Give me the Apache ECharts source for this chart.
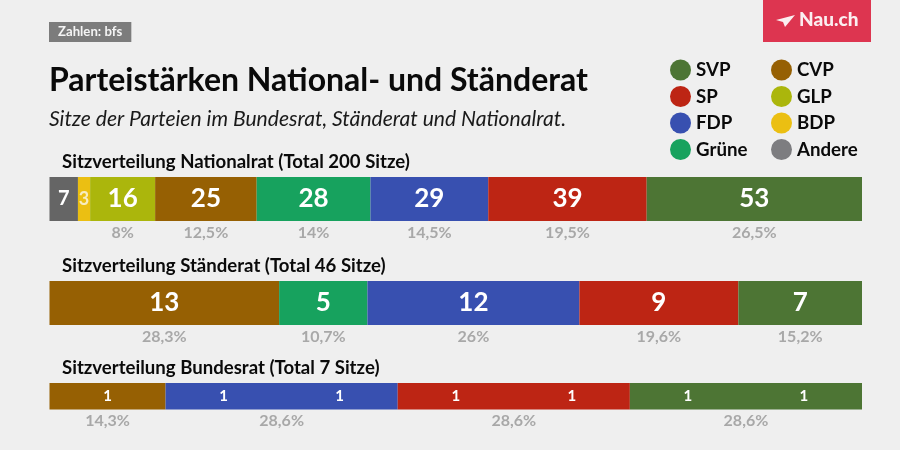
<!DOCTYPE html>
<html><head><meta charset="utf-8">
<style>html,body{margin:0;padding:0;background:#efefef}#c{width:900px;height:450px}</style>
<script src="https://cdn.jsdelivr.net/npm/echarts@6/dist/echarts.min.js"></script>
</head><body><div id="c"></div>
<script>
const legendLeft = ['SVP','SP','FDP','Grüne'];
const legendRight = ['CVP','GLP','BDP','Andere'];
const colors = {SVP:'#4d7534',SP:'#bd2514',FDP:'#3850b0','Grüne':'#17a25e',CVP:'#966003',GLP:'#abb60c',BDP:'#ebbf12',Andere:'#656565'};

const nrParties = ['Andere','BDP','GLP','CVP','Grüne','FDP','SP','SVP'];
const nrSeats = [7,3,16,25,28,29,39,53];
const nrLabels = [7,3,16,25,28,29,39,53];
const nrShares = ['','','8%','12,5%','14%','14,5%','19,5%','26,5%'];

const srParties = ['CVP','Grüne','FDP','SP','SVP'];
const srSeats = [13,5,12,9,7];
const srLabels = [13,5,12,9,7];
const srShares = ['28,3%','10,7%','26%','19,6%','15,2%'];

const brParties = ['CVP','FDP','SP','SVP'];
const brSeats = [1,2,2,2];
const brLabels = [1,1,1,1,1,1,1];
const brShares = ['14,3%','28,6%','28,6%','28,6%'];

const rows = [
  {title:'Sitzverteilung Nationalrat (Total 200 Sitze)',total:200,top:177,h:44,titleTop:151,font:26,parties:nrParties,seats:nrSeats,labels:nrLabels,shares:nrShares},
  {title:'Sitzverteilung Ständerat (Total 46 Sitze)',total:46,top:281,h:44,titleTop:255,font:26,parties:srParties,seats:srSeats,labels:srLabels,shares:srShares},
  {title:'Sitzverteilung Bundesrat (Total 7 Sitze)',total:7,top:383,h:26.5,titleTop:357,font:15,parties:brParties,seats:brSeats,labels:brLabels,shares:brShares}
];
const FONT = 'Lato';
const grids=[],xAxes=[],yAxes=[],series=[];
const titles=[
  {text:'Zahlen: bfs',left:49,top:22,padding:[3,9,3,9],backgroundColor:'#7c7c7c',textStyle:{fontFamily:FONT,fontSize:13.2,fontWeight:'bold',color:'#f4f4f4',lineHeight:14}},
  {text:'Parteistärken National- und Ständerat',left:49,top:62,padding:0,textStyle:{fontFamily:FONT,fontSize:32,fontWeight:'bold',color:'#0a0a0a',lineHeight:38}},
  {text:'Sitze der Parteien im Bundesrat, Ständerat und Nationalrat.',left:49,top:106,padding:0,textStyle:{fontFamily:FONT,fontSize:21.1,fontStyle:'italic',fontWeight:'normal',color:'#1a1a1a',lineHeight:26}}
];
rows.forEach((r,i)=>{
  grids.push({left:49.5,width:812.5,top:r.top,height:r.h});
  xAxes.push({type:'value',gridIndex:i,min:0,max:r.total,show:false});
  yAxes.push({type:'category',gridIndex:i,data:[r.title],show:false});
  titles.push({text:r.title,left:62,top:r.titleTop,padding:0,textStyle:{fontFamily:FONT,fontSize:18.6,fontWeight:'bold',color:'#0a0a0a',lineHeight:22}});
  // coloured segments, with the share printed underneath
  r.parties.forEach((p,j)=>{
    series.push({name:p,type:'bar',xAxisIndex:i,yAxisIndex:i,stack:'seats'+i,barWidth:'100%',barGap:'-100%',
      data:[r.seats[j]],itemStyle:{color:colors[p]},silent:true,
      label:{show:!!r.shares[j],position:'bottom',distance:3.5,formatter:r.shares[j],fontFamily:FONT,fontWeight:'bold',fontSize:16,color:'#a8a8a8'}});
  });
  // transparent layer carrying the seat numbers
  r.labels.forEach((v,j)=>{
    series.push({name:'Sitze '+i+' '+j,type:'bar',xAxisIndex:i,yAxisIndex:i,stack:'labels'+i,barWidth:'100%',barGap:'-100%',
      data:[v],itemStyle:{color:'rgba(0,0,0,0)'},silent:true,z:3,
      label:{show:true,position:'inside',formatter:String(v),fontFamily:FONT,fontWeight:'bold',
        fontSize:(r.total===200&&v<10)?(v<5?18:20):r.font,color:(v===3&&r.total===200)?'#f7ecc0':'#ffffff'}});
  });
});
const legendBase={orient:'vertical',icon:'circle',itemWidth:21,itemHeight:21,itemGap:5.5,selectedMode:false,
  textStyle:{fontFamily:FONT,fontSize:18.7,fontWeight:'bold',color:'#0a0a0a',padding:[0,0,0,0]},padding:0,top:59.5};
const chart=echarts.init(document.getElementById('c'),null,{renderer:'canvas'});
chart.setOption({
  animation:false,backgroundColor:'#efefef',
  title:titles,
  legend:[
    Object.assign({},legendBase,{left:670,data:legendLeft}),
    Object.assign({},legendBase,{left:771,data:legendRight.map(n=>n==='Andere'?{name:n,itemStyle:{color:'#7d7d80'}}:n)})
  ],
  grid:grids,xAxis:xAxes,yAxis:yAxes,series,
  graphic:[
    {type:'rect',left:763,top:0,shape:{width:108,height:42},style:{fill:'#dd3550'}},
    {type:'polygon',shape:{points:[[776,20],[795,15],[785,27],[783,22]]},style:{fill:'#fbeef0'}},
    {type:'text',left:799,top:10,style:{text:'Nau.ch',fontFamily:FONT,fontWeight:900,fontSize:19,fill:'#fbeef0'}}
  ]
});
</script></body></html>
